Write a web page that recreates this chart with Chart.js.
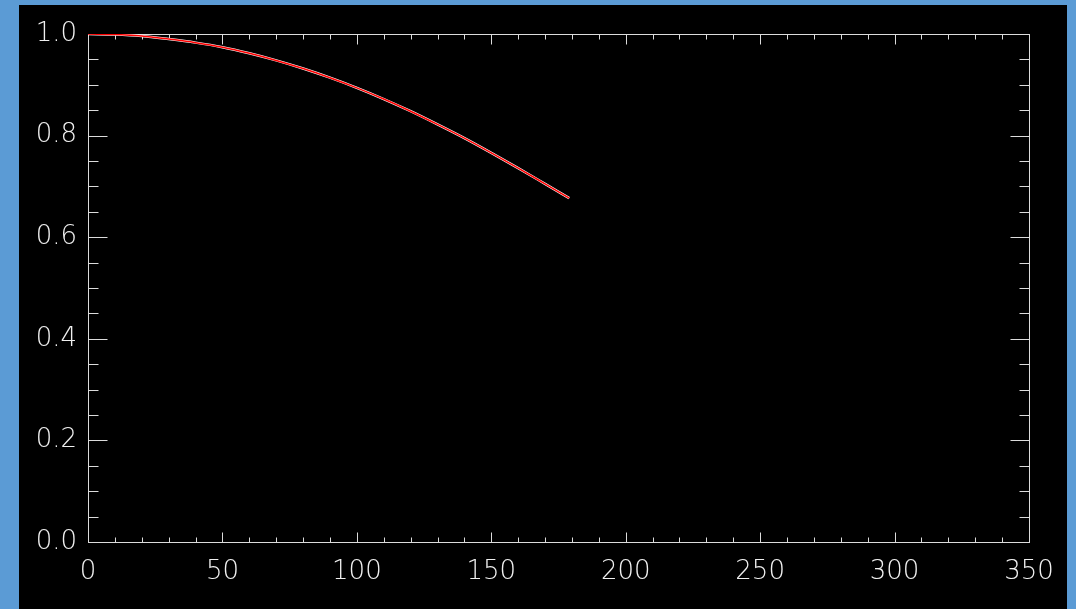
<!DOCTYPE html>
<html>
<head>
<meta charset="utf-8">
<title>Curve</title>
<script src="https://cdn.jsdelivr.net/npm/chart.js@4/dist/chart.umd.min.js"></script>
<style>
    html, body { margin: 0; padding: 0; }
    body { background: #5b9bd5; width: 1076px; height: 609px; overflow: hidden; position: relative; }
    #box { position: absolute; left: 19px; top: 5px; width: 1048px; height: 604px; background: #000; }
</style>
</head>
<body>
<div id="box"><canvas id="plot" width="1048" height="604"></canvas></div>
<script>
// sampled curve
const xValues = [0, 10, 20, 30, 40, 50, 60, 70, 80, 90, 100, 110, 120, 130, 140, 150, 160, 170, 179];
const yValues = [1.000, 0.999, 0.996, 0.990, 0.983, 0.974, 0.962, 0.948, 0.932, 0.914, 0.894, 0.872, 0.848, 0.822, 0.795, 0.766, 0.736, 0.705, 0.677];

// axis ticks
const xMajorTicks = [0, 50, 100, 150, 200, 250, 300, 350];
const xMinorTicks = [];
for (let v = 0; v <= 350; v += 10) xMinorTicks.push(v);
const yMajorTicks = [0.0, 0.2, 0.4, 0.6, 0.8, 1.0];
const yMinorTicks = [];
for (let i = 0; i <= 20; i++) yMinorTicks.push(i * 0.05);

const axisColor = '#dcdcdc';
const labelFont = { family: "'DejaVu Sans', sans-serif", size: 26, weight: 200 };

const points = xValues.map((x, i) => ({ x: x, y: yValues[i] }));

// box frame with inward ticks on all four sides
const frameTicks = {
    id: 'frameTicks',
    beforeDatasetsDraw(chart) {
        const ctx = chart.ctx;
        const area = chart.chartArea;
        const xs = chart.scales.x;
        const ys = chart.scales.y;
        const left = Math.round(area.left) + 0.5;
        const right = Math.round(area.right) + 0.5;
        const top = Math.round(area.top) + 0.5;
        const bottom = Math.round(area.bottom) + 0.5;

        ctx.save();
        ctx.strokeStyle = axisColor;
        ctx.lineWidth = 1;
        ctx.beginPath();
        ctx.rect(left, top, right - left, bottom - top);

        const xTick = (v, len) => {
            const px = Math.round(xs.getPixelForValue(v)) + 0.5;
            ctx.moveTo(px, bottom); ctx.lineTo(px, bottom - len);
            ctx.moveTo(px, top); ctx.lineTo(px, top + len);
        };
        const yTick = (v, len) => {
            const py = Math.round(ys.getPixelForValue(v)) + 0.5;
            ctx.moveTo(left, py); ctx.lineTo(left + len, py);
            ctx.moveTo(right, py); ctx.lineTo(right - len, py);
        };
        xMinorTicks.forEach(v => xTick(v, 5));
        xMajorTicks.forEach(v => xTick(v, 10));
        yMinorTicks.forEach(v => yTick(v, 10));
        yMajorTicks.forEach(v => yTick(v, 19));
        ctx.stroke();
        ctx.restore();
    }
};

new Chart(document.getElementById('plot'), {
    type: 'line',
    data: {
        datasets: [{
            // red trace on top
            data: points,
            borderColor: '#ff0000',
            borderWidth: 1.5,
            pointRadius: 0,
            cubicInterpolationMode: 'monotone',
            order: 0
        }, {
            // white trace underneath
            data: points,
            borderColor: '#ffffff',
            borderWidth: 2.5,
            pointRadius: 0,
            cubicInterpolationMode: 'monotone',
            order: 1
        }]
    },
    options: {
        responsive: false,
        animation: false,
        layout: { padding: { top: 29, right: 38, left: 0, bottom: 0 } },
        plugins: { legend: { display: false }, tooltip: { enabled: false } },
        scales: {
            x: {
                type: 'linear',
                min: 0,
                max: 350,
                afterFit(scale) {
                    scale.height = 67;
                    scale.paddingLeft = 0;
                    scale.paddingRight = 0;
                },
                afterBuildTicks(scale) { scale.ticks = xMajorTicks.map(v => ({ value: v })); },
                grid: { display: false, drawTicks: false },
                border: { display: false },
                ticks: {
                    color: '#f0f0f0',
                    font: labelFont,
                    padding: 15,
                    maxRotation: 0,
                    autoSkip: false,
                    callback: v => String(v)
                }
            },
            y: {
                type: 'linear',
                min: 0,
                max: 1,
                afterFit(scale) {
                    scale.width = 69;
                    scale.paddingTop = 0;
                    scale.paddingBottom = 0;
                },
                afterBuildTicks(scale) { scale.ticks = yMajorTicks.map(v => ({ value: v })); },
                grid: { display: false, drawTicks: false },
                border: { display: false },
                ticks: {
                    color: '#f0f0f0',
                    font: labelFont,
                    padding: 11,
                    autoSkip: false,
                    callback: v => v.toFixed(1)
                }
            }
        }
    },
    plugins: [frameTicks]
});
</script>
</body>
</html>
